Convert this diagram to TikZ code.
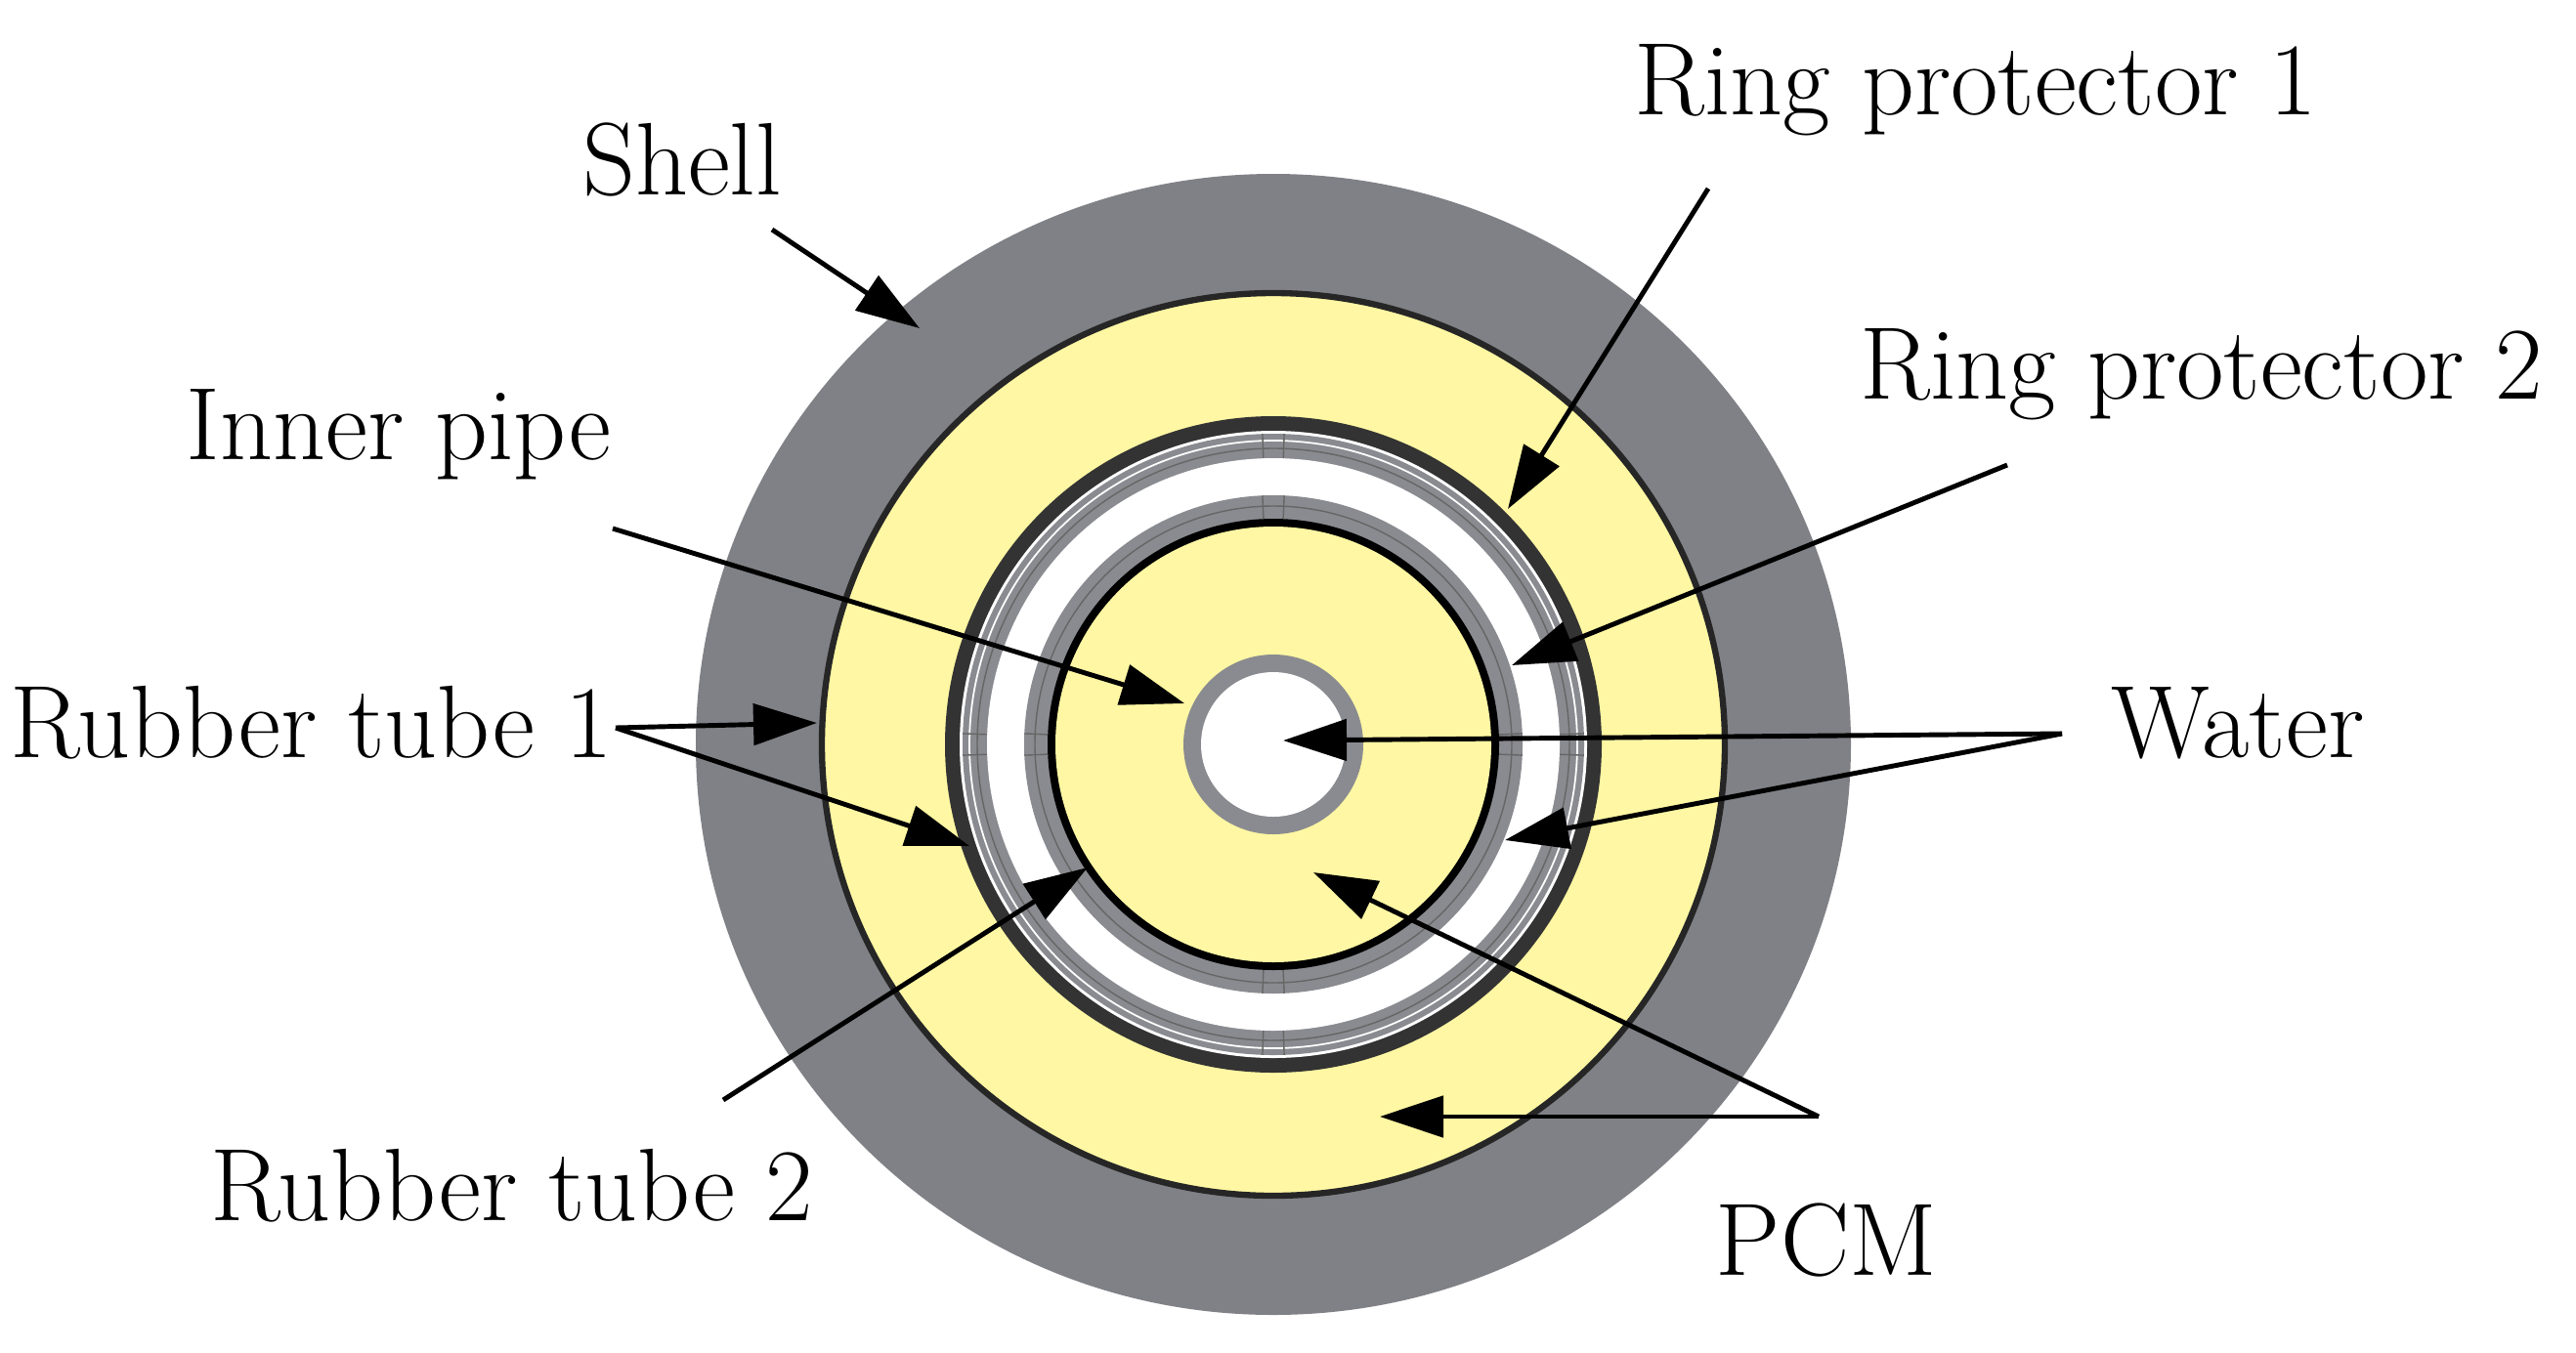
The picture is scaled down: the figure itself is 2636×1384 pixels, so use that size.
\documentclass[tikz,border=0pt]{standalone}
\usetikzlibrary{arrows.meta,calc}
\definecolor{shellgray}{HTML}{808186}
\definecolor{pcm}{HTML}{FFF7A3}
\definecolor{ringgray}{HTML}{8A8B90}
\begin{document}
\begin{tikzpicture}[x=0.01cm,y=-0.01cm,
  lbl/.style={font=\fontsize{30}{34}\selectfont, inner sep=0pt},
  arr/.style={line width=1.4pt,-{Triangle[length=0.65cm,width=0.42cm]}}]
\useasboundingbox (0,0) rectangle (2636,1384);
\fill[white] (0,0) rectangle (2636,1384);
\coordinate (c) at (1303,762);
% shell
\fill[shellgray] (c) ellipse [x radius=591,y radius=584];
\fill[pcm] (c) circle (463);
\draw[black!85,line width=1.8pt] (c) circle (462);
% rubber tube 1 (inner)
\fill[black!80] (c) circle (336);
\fill[white] (c) circle (321);
% ring protector 1
\fill[ringgray] (c) circle (318);
\fill[white] (c) circle (293);
\draw[white,line width=0.5pt] (c) circle (311);
\draw[black!60,line width=0.4pt] (c) circle (303);
% ring protector 2
\fill[ringgray] (c) circle (255);
\fill[black] (c) circle (231);
\fill[pcm] (c) circle (223);
\draw[black!60,line width=0.4pt] (c) circle (244);
\foreach \a in {0,90,180,270}{
  \draw[black!60,line width=0.4pt] ($(c)+(\a-2:293)$) -- ($(c)+(\a-2:318)$);
  \draw[black!60,line width=0.4pt] ($(c)+(\a+2:293)$) -- ($(c)+(\a+2:318)$);
  \draw[black!60,line width=0.4pt] ($(c)+(\a-2.5:231)$) -- ($(c)+(\a-2.5:255)$);
  \draw[black!60,line width=0.4pt] ($(c)+(\a+2.5:231)$) -- ($(c)+(\a+2.5:255)$);
}
% inner pipe
\fill[ringgray] (c) circle (92);
\fill[white] (c) circle (74);
% labels
\node[lbl] (shell) at (698,163) {Shell};
\node[lbl] (rp1) at (2022,92) {Ring protector 1};
\node[lbl] (rp2) at (2253,383) {Ring protector 2};
\node[lbl] (ip) at (408,445) {Inner pipe};
\node[lbl] (rt1) at (319,740) {Rubber tube 1};
\node[lbl] (water) at (2290,740) {Water};
\node[lbl] (rt2) at (524,1214) {Rubber tube 2};
\node[lbl] (pcmL) at (1869,1269) {PCM};
% arrow coordinates
\coordinate (sS) at (790,235); \coordinate (sE) at (941,336);
\coordinate (r1S) at (1748,193); \coordinate (r1E) at (1543,521);
\coordinate (r2S) at (2054,476); \coordinate (r2E) at (1547,681);
\coordinate (ipS) at (627,541); \coordinate (ipE) at (1212,720);
\coordinate (t1S) at (630,745); \coordinate (t1E1) at (836,740); \coordinate (t1E2) at (992,866);
\coordinate (wS) at (2110,751); \coordinate (wE1) at (1313,758); \coordinate (wE2) at (1540,860);
\coordinate (t2S) at (740,1126); \coordinate (t2E) at (1113,888);
\coordinate (pS) at (1861,1143); \coordinate (pE1) at (1344,893); \coordinate (pE2) at (1412,1143);
\draw[arr] (sS) -- (sE);
\draw[arr] (r1S) -- (r1E);
\draw[arr] (r2S) -- (r2E);
\draw[arr] (ipS) -- (ipE);
\draw[arr] (t1S) -- (t1E1);
\draw[arr] (t1S) -- (t1E2);
\draw[arr] (wS) -- (wE1);
\draw[arr] (wS) -- (wE2);
\draw[arr] (t2S) -- (t2E);
\draw[arr] (pS) -- (pE1);
\draw[arr] (pS) -- (pE2);
\end{tikzpicture}
\end{document}
